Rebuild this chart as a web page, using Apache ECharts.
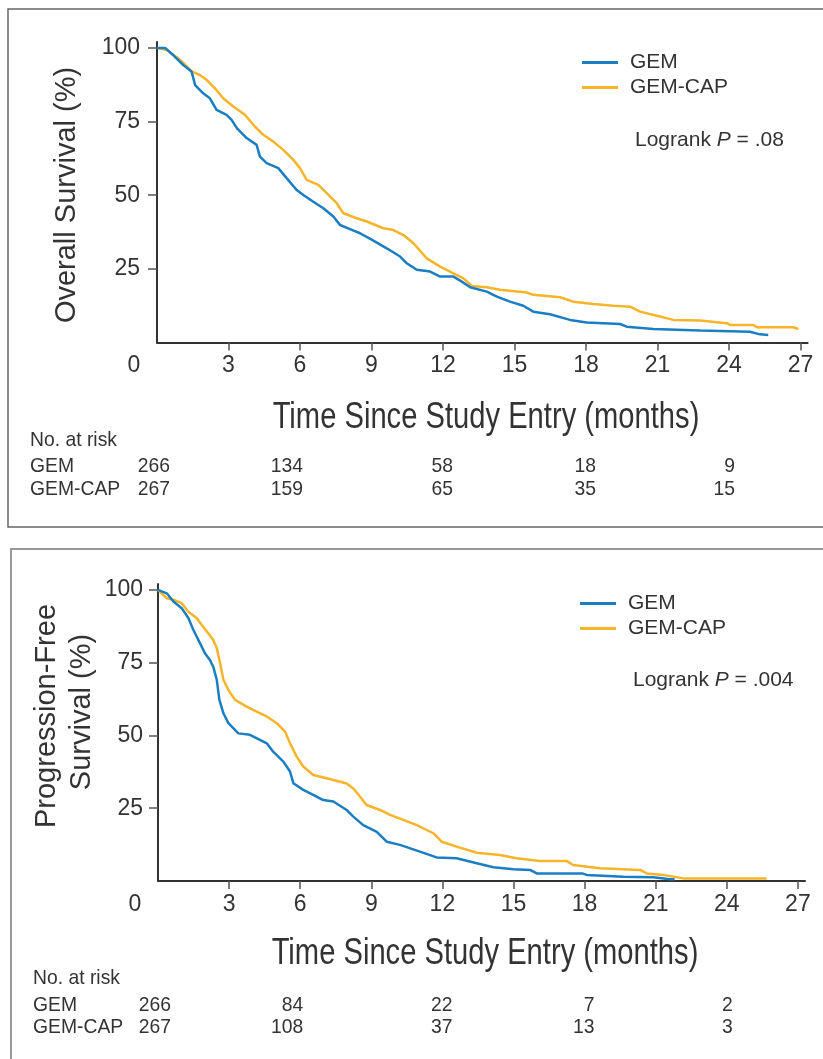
<!DOCTYPE html>
<html>
<head>
<meta charset="utf-8">
<script src="https://cdn.jsdelivr.net/npm/echarts@6/dist/echarts.min.js"></script>
<style>
html, body { margin: 0; padding: 0; background: #fff; }
#main { width: 823px; height: 1059px; }
</style>
</head>
<body>
<div id="main"></div>
<script>
// Kaplan-Meier curves, [months, %]
var osGem = [[0,100],[0.34,100],[0.67,97.6],[1.1,94.2],[1.45,92],[1.6,87.4],[1.94,84.6],[2.22,82.9],[2.5,79],[2.92,77.3],[3.13,75.6],[3.35,72.8],[3.76,69.4],[4.18,67.1],[4.32,63.1],[4.6,60.9],[5.09,59.2],[5.44,55.8],[5.86,51.8],[6.14,50.1],[6.56,47.8],[6.98,45.6],[7.4,42.8],[7.68,39.9],[8.1,38.5],[8.52,37.1],[9.08,34.6],[9.64,32.0],[10.2,29.2],[10.48,26.9],[10.9,24.7],[11.46,24.1],[11.88,22.4],[12.44,22.4],[12.79,20.7],[13.14,18.8],[13.84,17.3],[14.26,15.6],[14.81,13.9],[15.37,12.5],[15.79,10.5],[16.49,9.6],[17.33,7.7],[18.03,6.8],[19.43,6.3],[19.71,5.4],[20.83,4.6],[22.79,4.1],[24.88,3.7],[25.3,2.8],[25.65,2.6]];
var osCap = [[0,100],[0.41,99.3],[0.83,96.8],[1.04,95.4],[1.45,92],[1.8,90.8],[2.09,89.1],[2.43,86.3],[2.78,82.9],[3.2,80.1],[3.69,77.3],[4.04,73.9],[4.46,70.5],[4.88,68.2],[5.3,65.4],[5.72,62],[6.0,59.2],[6.28,55.2],[6.77,53.5],[7.12,50.7],[7.54,47.3],[7.82,43.9],[8.38,42.2],[8.8,41.1],[9.5,38.8],[9.92,38.2],[10.34,36.5],[10.76,33.7],[11.32,28.6],[11.88,25.8],[12.44,23.5],[12.86,21.8],[13.21,19.2],[13.84,18.8],[14.39,17.9],[15.51,17.0],[15.79,16.2],[16.91,15.4],[17.47,13.9],[18.31,13.1],[19.15,12.5],[19.85,12.2],[20.27,10.5],[20.97,9.1],[21.67,7.7],[22.79,7.5],[23.91,6.6],[24.05,6.0],[25.03,6.0],[25.17,5.2],[26.7,5.2],[26.91,4.6]];
var pfsGem = [[0,100],[0.37,98.8],[0.65,96],[1.0,93.7],[1.28,90.3],[1.49,86.3],[1.77,81.7],[1.98,78.2],[2.19,75.9],[2.33,73.6],[2.48,69.1],[2.59,62.2],[2.76,57.6],[2.97,54.2],[3.39,50.7],[3.88,50.2],[4.3,48.5],[4.59,47.3],[4.86,44.4],[5.29,41.0],[5.57,37.6],[5.71,33.6],[6.13,31.3],[6.55,29.6],[6.97,27.8],[7.4,27.3],[7.96,24.4],[8.24,22.1],[8.66,19.2],[9.23,16.9],[9.65,13.5],[10.21,12.4],[11.05,10.1],[11.76,8.1],[12.6,7.8],[13.45,6.1],[14.15,4.7],[15.0,4.0],[15.7,3.8],[15.98,2.6],[17.9,2.6],[18.09,2.1],[19.63,1.5],[20.9,1.3],[21.6,0.6],[21.8,0.6]];
var pfsCap = [[0,100],[0.37,97.1],[0.65,96.6],[1.0,95.4],[1.28,92.5],[1.63,90.3],[1.84,88],[2.12,85.1],[2.33,82.8],[2.48,80],[2.62,74.8],[2.76,69.1],[2.97,65.6],[3.25,62.2],[3.74,59.9],[4.16,58.2],[4.59,56.5],[5.01,54.2],[5.36,51.3],[5.57,47.3],[5.85,42.7],[6.13,39.3],[6.55,36.4],[7.12,35.3],[7.4,34.7],[7.96,33.5],[8.24,31.8],[8.52,29.0],[8.8,26.1],[9.37,24.4],[9.79,22.7],[10.35,21.0],[10.92,19.2],[11.62,16.4],[11.97,13.5],[12.6,11.8],[13.45,9.7],[14.43,8.9],[15.13,7.8],[16.1,6.9],[17.24,6.9],[17.52,5.5],[18.65,4.4],[20.34,3.8],[20.62,2.6],[21.32,2.1],[22.16,0.9],[25.68,0.9]];

// number at risk
var riskTimes = [0, 6, 12, 18, 24];
var osRiskGem = [266, 134, 58, 18, 9];
var osRiskCap = [267, 159, 65, 35, 15];
var pfsRiskGem = [266, 84, 22, 7, 2];
var pfsRiskCap = [267, 108, 37, 13, 3];

var xTicks = [0, 3, 6, 9, 12, 15, 18, 21, 24, 27];
var yTicks = [25, 50, 75, 100];
var pValues = ['.08', '.004'];

var BLUE = '#1b7dc2';
var GOLD = '#f5b42a';
var FONT = "'Liberation Sans', Arial, sans-serif";

var dom = document.getElementById('main');
var myChart = echarts.init(dom, null, { renderer: 'canvas' });

function xAxisFor(i) {
    return {
        gridIndex: i, type: 'value', min: 0, max: 27.3,
        axisLine: { lineStyle: { color: '#333', width: 2 } },
        axisTick: { customValues: xTicks.slice(1), length: 8, lineStyle: { color: '#555', width: 1.5 } },
        axisLabel: {
            customValues: xTicks, margin: 12, fontSize: 23, color: '#333', fontFamily: FONT,
            formatter: function (v) { return v === 0 ? '{z|0}' : String(v); },
            rich: { z: { padding: [0, 46, 0, 0], fontSize: 23, color: '#333', fontFamily: FONT } }
        },
        splitLine: { show: false }
    };
}
function yAxisFor(i, off) {
    return {
        gridIndex: i, type: 'value', min: 0, max: 102, offset: off,
        axisLine: { show: true, lineStyle: { color: '#333', width: 2 } },
        axisTick: { show: true, customValues: yTicks, length: 9, lineStyle: { color: '#555', width: 1.5 } },
        axisLabel: { customValues: yTicks, margin: 14, fontSize: 23, color: '#333', fontFamily: FONT },
        splitLine: { show: false }
    };
}
function line(name, data, color, i) {
    return {
        name: name, type: 'line', xAxisIndex: i, yAxisIndex: i, data: data,
        showSymbol: false, symbol: 'none',
        lineStyle: { color: color, width: 2.5 }, itemStyle: { color: color }
    };
}
function legendFor(left, top) {
    return {
        left: left, top: top, orient: 'vertical', icon: 'rect', padding: 0,
        itemWidth: 36, itemHeight: 3, itemGap: 4,
        textStyle: { fontSize: 21, color: '#333', fontFamily: FONT, padding: [0, 0, 0, 7] },
        data: ['GEM', 'GEM-CAP']
    };
}

var option = {
    animation: false,
    backgroundColor: '#fff',
    grid: [
        { left: 157, top: 42, width: 650.6, height: 300.6 },
        { left: 158, top: 584, width: 647, height: 297 }
    ],
    xAxis: [xAxisFor(0), xAxisFor(1)],
    yAxis: [yAxisFor(0, 3), yAxisFor(1, 1)],
    legend: [legendFor(582, 52), legendFor(580, 593)],
    series: [
        line('GEM-CAP', osCap, GOLD, 0),
        line('GEM', osGem, BLUE, 0),
        line('GEM-CAP', pfsCap, GOLD, 1),
        line('GEM', pfsGem, BLUE, 1)
    ]
};
myChart.setOption(option);

function txt(x, y, s, opts) {
    opts = opts || {};
    return {
        type: 'text', x: x, y: y, rotation: opts.rot || 0, scaleX: opts.sx || 1, silent: true,
        style: {
            text: s, fill: '#333',
            font: opts.font || ('21px ' + FONT),
            align: opts.align || 'left', verticalAlign: 'middle',
            rich: opts.rich
        }
    };
}

var g = [];
// panel frames
g.push({ type: 'rect', shape: { x: 8, y: 9, width: 830, height: 518 }, style: { fill: 'none', stroke: '#666', lineWidth: 1.5 }, silent: true });
g.push({ type: 'rect', shape: { x: 11, y: 549, width: 830, height: 600 }, style: { fill: 'none', stroke: '#999', lineWidth: 2 }, silent: true });

// axis titles
g.push(txt(67, 195, 'Overall Survival (%)', { rot: Math.PI / 2, align: 'center', font: '29px ' + FONT }));
g.push(txt(47, 716, 'Progression-Free', { rot: Math.PI / 2, align: 'center', font: '29px ' + FONT }));
g.push(txt(82, 712, 'Survival (%)', { rot: Math.PI / 2, align: 'center', font: '29px ' + FONT }));
g.push(txt(486, 418, 'Time Since Study Entry (months)', { align: 'center', font: '36px ' + FONT, sx: 0.81 }));
g.push(txt(485, 954, 'Time Since Study Entry (months)', { align: 'center', font: '36px ' + FONT, sx: 0.81 }));

// logrank
var rich = { i: { fontStyle: 'italic', fontSize: 21, fontFamily: FONT, fill: '#333' } };
g.push(txt(635, 140, 'Logrank {i|P} = ' + pValues[0], { rich: rich }));
g.push(txt(633, 680, 'Logrank {i|P} = ' + pValues[1], { rich: rich }));

// number at risk tables (right-aligned just past each time tick)
var riskNudge = [13, 3, 10, 10, 6];
function riskTable(gi, x0, yHead, yA, yB, rowA, rowB) {
    g.push(txt(x0, yHead, 'No. at risk', { sx: 0.92 }));
    g.push(txt(x0, yA, 'GEM', { sx: 0.92 }));
    g.push(txt(x0, yB, 'GEM-CAP', { sx: 0.92 }));
    riskTimes.forEach(function (t, k) {
        var px = myChart.convertToPixel({ gridIndex: gi }, [t, 0])[0] + riskNudge[k];
        g.push(txt(px, yA, String(rowA[k]), { align: 'right', sx: 0.92 }));
        g.push(txt(px, yB, String(rowB[k]), { align: 'right', sx: 0.92 }));
    });
}
riskTable(0, 30, 440, 466, 489, osRiskGem, osRiskCap);
riskTable(1, 33, 978, 1005, 1027, pfsRiskGem, pfsRiskCap);

myChart.setOption({ graphic: g });

window.addEventListener('resize', myChart.resize);
</script>
</body>
</html>
